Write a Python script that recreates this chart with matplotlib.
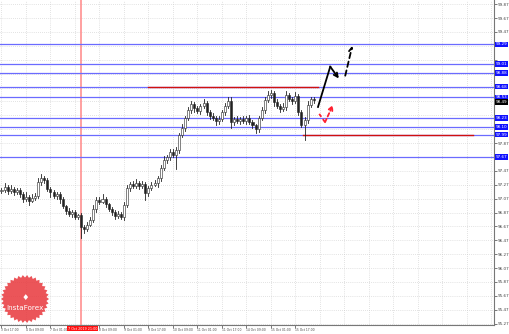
import numpy as np
import matplotlib
matplotlib.use("Agg")
import matplotlib.pyplot as plt
import matplotlib.transforms as mtransforms
from matplotlib.patches import Polygon, Rectangle

# closing prices, one per bar (open = previous close)
closes = [
    97.19, 97.24, 97.18, 97.21, 97.16, 97.19, 97.14, 97.06, 97.09, 97.04, 97.08, 97.11,
    97.31, 97.37, 97.34, 97.21, 97.16, 97.11, 97.14, 97.06, 96.96, 96.89, 96.85, 96.88,
    96.81, 96.83, 96.66, 96.63, 96.69, 96.76, 96.92, 97.05, 97.02, 97.06, 96.99, 96.92,
    96.88, 96.82, 96.85, 96.81, 96.98, 97.22, 97.28, 97.25, 97.29, 97.25, 97.28, 97.15,
    97.22, 97.27, 97.29, 97.37, 97.51, 97.63, 97.67, 97.74, 97.70, 97.77, 97.99, 98.09,
    98.23, 98.35, 98.43, 98.37, 98.33, 98.40, 98.45, 98.32, 98.26, 98.23, 98.19, 98.22,
    98.32, 98.40, 98.48, 98.17, 98.22, 98.19, 98.22, 98.19, 98.23, 98.17, 98.13, 98.07,
    98.23, 98.35, 98.49, 98.56, 98.59, 98.46, 98.40, 98.36, 98.39, 98.56, 98.50, 98.48,
    98.55, 98.32, 98.13, 98.20, 98.42, 98.50, 98.49,
]
first_open = 97.18
upper_wick = [
    0.04, 0.06, 0.03, 0.05, 0.03, 0.04, 0.03, 0.02, 0.08, 0.03, 0.05, 0.04,
    0.05, 0.06, 0.03, 0.02, 0.03, 0.04, 0.03, 0.02, 0.03, 0.02, 0.04, 0.03,
    0.03, 0.02, 0.04, 0.03, 0.05, 0.04, 0.06, 0.05, 0.04, 0.08, 0.03, 0.02,
    0.03, 0.02, 0.04, 0.03, 0.04, 0.05, 0.03, 0.04, 0.06, 0.03, 0.04, 0.03,
    0.03, 0.04, 0.05, 0.03, 0.04, 0.06, 0.03, 0.04, 0.05, 0.04, 0.03, 0.05,
    0.03, 0.04, 0.05, 0.03, 0.04, 0.03, 0.06, 0.03, 0.02, 0.04, 0.03, 0.04,
    0.03, 0.04, 0.05, 0.06, 0.03, 0.04, 0.03, 0.04, 0.03, 0.04, 0.03, 0.02,
    0.03, 0.04, 0.05, 0.06, 0.05, 0.03, 0.04, 0.03, 0.05, 0.06, 0.03, 0.04,
    0.05, 0.03, 0.02, 0.04, 0.05, 0.04, 0.03,
]
lower_wick = [
    0.03, 0.02, 0.05, 0.03, 0.04, 0.03, 0.05, 0.04, 0.03, 0.06, 0.02, 0.03,
    0.03, 0.04, 0.05, 0.03, 0.06, 0.03, 0.04, 0.05, 0.03, 0.04, 0.03, 0.05,
    0.04, 0.03, 0.16, 0.06, 0.03, 0.02, 0.03, 0.04, 0.03, 0.02, 0.04, 0.03,
    0.04, 0.05, 0.03, 0.04, 0.05, 0.03, 0.04, 0.03, 0.02, 0.04, 0.03, 0.10,
    0.04, 0.03, 0.02, 0.05, 0.04, 0.03, 0.05, 0.04, 0.03, 0.20, 0.04, 0.03,
    0.04, 0.03, 0.04, 0.05, 0.03, 0.04, 0.03, 0.05, 0.04, 0.03, 0.06, 0.04,
    0.03, 0.04, 0.03, 0.08, 0.04, 0.03, 0.04, 0.03, 0.04, 0.03, 0.05, 0.06,
    0.04, 0.03, 0.04, 0.03, 0.04, 0.05, 0.03, 0.04, 0.03, 0.04, 0.03, 0.05,
    0.03, 0.04, 0.03, 0.22, 0.04, 0.03, 0.04,
]

# horizontal levels (blue) and red segments
levels = [99.29, 99.01, 98.88, 98.68, 98.53, 98.23, 98.10, 97.99, 97.67]
red_levels = [98.68, 97.99]
red_start = [48, 98.5]
red_end = [103.5, 154]
last_price = 98.49
marker_bar = 26
marker_label = "7 Oct 2019 21:00"

# time axis labels, every 8 bars (the 7 Oct 17:00 slot sits under the marker label)
time_labels = ["3 Oct 17:00", "4 Oct 09:00", "7 Oct 01:00", "", "8 Oct 09:00",
               "9 Oct 01:00", "9 Oct 17:00", "10 Oct 09:00", "11 Oct 01:00", "11 Oct 17:00",
               "14 Oct 09:00", "15 Oct 01:00", "15 Oct 17:00"]
price_ticks = [99.87, 99.67, 99.47, 99.27, 99.07, 98.87, 98.67, 98.47, 98.27, 98.07, 97.87,
               97.67, 97.47, 97.27, 97.07, 96.87, 96.67, 96.47, 96.27, 96.07, 95.87, 95.67,
               95.47, 95.27]

# forecast arrows (bar, price)
black_path_x = [103.4, 107.4, 110.2]
black_path_y = [98.39, 98.97, 98.80]
dashed_x = [112.3, 114.6]
dashed_y = [98.84, 99.27]
red_path_x = [103.8, 105.7, 108.3]
red_path_y = [98.29, 98.17, 98.42]

W, H = 510, 334
fig = plt.figure(figsize=(W / 100, H / 100), dpi=100)
ax = fig.add_axes([0, 9 / H, 494 / W, 325 / H])
ax.set_xlim(-0.49, 160.9)
ax.set_ylim(95.25, 99.93)

# grid
for t in range(0, 161, 8):
    ax.axvline(t, color="#c8c8c8", lw=0.5, ls=(0, (1, 2)), zorder=0)
for p in price_ticks:
    ax.axhline(p, color="#c8c8c8", lw=0.5, ls=(0, (1, 2)), zorder=0)

# marker vertical line
ax.axvline(marker_bar, color="#ff9090", lw=1.2, zorder=1)

# levels
for lv in levels:
    ax.axhline(lv, color="#6b6bff", lw=0.9, zorder=2)
for lv, a, b in zip(red_levels, red_start, red_end):
    ax.plot([a, b], [lv, lv], color="#d01010", lw=1.0, zorder=3)

# candles
opens = [first_open] + closes[:-1]
for i, (o, c) in enumerate(zip(opens, closes)):
    hi = max(o, c) + upper_wick[i]
    lo = min(o, c) - lower_wick[i]
    ax.plot([i, i], [lo, hi], color="#222222", lw=0.6, zorder=4)
    body = max(abs(c - o), 0.008)
    fc = "white" if c >= o else "#222222"
    ax.add_patch(Rectangle((i - 0.33, min(o, c)), 0.66, body, facecolor=fc,
                           edgecolor="#222222", lw=0.4, zorder=5))

# forecast arrows
arrow_kw = dict(shrinkA=0, shrinkB=0, mutation_scale=7)
ax.plot(black_path_x[:2], black_path_y[:2], color="black", lw=1.3, zorder=6)
ax.annotate("", xy=(black_path_x[2], black_path_y[2]), xytext=(black_path_x[1], black_path_y[1]),
            arrowprops=dict(arrowstyle="->", color="black", lw=1.3, **arrow_kw), zorder=6)
ax.annotate("", xy=(dashed_x[1], dashed_y[1]), xytext=(dashed_x[0], dashed_y[0]),
            arrowprops=dict(arrowstyle="->", color="black", lw=1.3, linestyle=(0, (3, 2)),
                            **arrow_kw), zorder=6)
ax.plot(red_path_x[:2], red_path_y[:2], color="#ff2030", lw=1.3, ls=(0, (2, 1.5)), zorder=6)
ax.annotate("", xy=(red_path_x[2], red_path_y[2]), xytext=(red_path_x[1], red_path_y[1]),
            arrowprops=dict(arrowstyle="->", color="#ff2030", lw=1.3, linestyle=(0, (2, 1.5)),
                            **arrow_kw), zorder=6)

# axes styling
for s in ["left", "top"]:
    ax.spines[s].set_visible(False)
for s in ["right", "bottom"]:
    ax.spines[s].set_color("#777777")
    ax.spines[s].set_linewidth(0.8)
ax.yaxis.tick_right()
ax.set_yticks(price_ticks)
# tick labels hidden under a level box are left blank
ax.set_yticklabels(["" if min(abs(p - lv) for lv in levels) < 0.06 else f"{p:.2f}"
                    for p in price_ticks])
ax.tick_params(axis="y", length=2, width=0.5, pad=0.5, labelsize=3.0, colors="#444444")
xt = [8 * k for k, lab in enumerate(time_labels) if lab]
ax.set_xticks(xt)
ax.set_xticklabels([lab for lab in time_labels if lab], ha="left")
ax.tick_params(axis="x", length=2, width=0.5, pad=0.5, labelsize=2.2, colors="#444444")

# price labels on the right axis
ytr = mtransforms.blended_transform_factory(ax.transAxes, ax.transData)
for lv in levels:
    ax.text(1.004, lv, f"{lv:.2f}", transform=ytr, fontsize=3.0, color="white",
            va="center", ha="left", clip_on=False, zorder=10,
            bbox=dict(boxstyle="square,pad=0.15", fc="#1010ff", ec="none"))
ax.text(1.004, last_price - 0.03, f"{last_price:.2f}", transform=ytr, fontsize=3.0,
        color="white", va="center", ha="left", clip_on=False, zorder=11,
        bbox=dict(boxstyle="square,pad=0.15", fc="black", ec="none"))

# time marker label
xtr = mtransforms.blended_transform_factory(ax.transData, ax.transAxes)
ax.text(marker_bar + 0.5, -0.006, marker_label, transform=xtr, fontsize=2.4, color="white",
        ha="center", va="top", clip_on=False, zorder=11,
        bbox=dict(boxstyle="square,pad=0.15", fc="#ff1010", ec="none"))

# InstaForex badge
cx, cy, r_out, r_in, n = 25, 299, 24, 21.5, 34
ang = np.linspace(0, 2 * np.pi, 2 * n, endpoint=False)
rad = np.where(np.arange(2 * n) % 2 == 0, r_out, r_in)
pts = np.column_stack([(cx + rad * np.cos(ang)) / 100, (H - cy + rad * np.sin(ang)) / 100])
fig.add_artist(Polygon(pts, closed=True, transform=fig.dpi_scale_trans,
                       fc="#e8373c", ec="none", alpha=0.85, zorder=20))
fig.text(cx / W, 1 - 298 / H, "\u2666", color="white", fontsize=6, ha="center",
         va="center", zorder=21)
fig.text(cx / W, 1 - 308 / H, "InstaForex", color="white", fontsize=5.2, ha="center",
         va="center", zorder=21)

fig.savefig("out.png", dpi=100)
